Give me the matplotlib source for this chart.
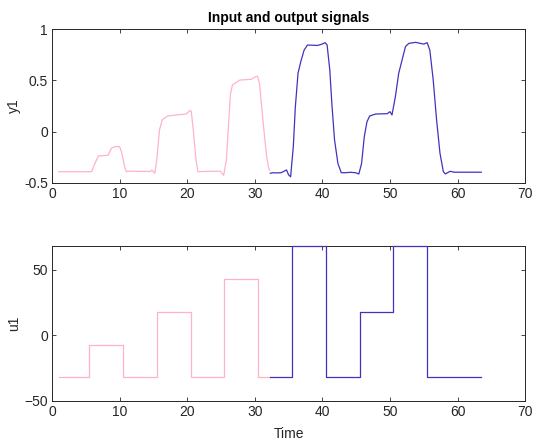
#Input / output signal plot
import matplotlib
matplotlib.use("Agg")
import matplotlib.pyplot as plt

plt.rcParams['font.family'] = ['Liberation Sans', 'DejaVu Sans']

# output y1, first experiment (pink)
t_y_a = [1, 5.5, 5.85, 6.35, 6.85, 8.3, 8.8, 9.3, 10.0, 10.3, 10.8, 11.0, 11.3,
         14.5, 14.8, 15.2, 15.5, 15.9, 16.3, 17.1, 18.9, 19.8, 20.4, 20.6, 20.9,
         21.3, 21.6, 22.3, 24.9, 25.4, 25.8, 26.1, 26.4, 26.7, 27.8, 29.5, 30.1,
         30.4, 30.7, 31.2, 31.7, 32.0, 32.2]
y_a = [-0.39, -0.39, -0.39, -0.31, -0.237, -0.23, -0.16, -0.146, -0.146, -0.20, -0.356, -0.39, -0.385,
       -0.388, -0.375, -0.405, -0.276, 0.017, 0.114, 0.153, 0.166, 0.17, 0.205, 0.2, 0.017,
       -0.276, -0.39, -0.388, -0.385, -0.425, -0.276, 0.05, 0.37, 0.455, 0.503, 0.51, 0.535,
       0.54, 0.47, 0.114, -0.21, -0.34, -0.375]

# output y1, second experiment (blue)
t_y_b = [32.3, 32.7, 33.2, 33.9, 34.7, 35.0, 35.3, 35.7, 36.0, 36.4, 36.8, 37.3, 37.8,
         39.3, 40.0, 40.4, 40.7, 41.1, 41.4, 41.8, 42.3, 42.8, 43.4, 44.2, 44.9,
         45.4, 45.8, 46.2, 46.6, 47.0, 47.9, 49.6, 50.0, 50.3, 50.8, 51.3, 51.8,
         52.3, 52.8, 53.8, 54.5, 55.0, 55.5, 55.9, 56.4, 56.9, 57.4, 57.9, 58.2,
         58.9, 59.5, 63.5]
y_b = [-0.405, -0.40, -0.402, -0.40, -0.373, -0.42, -0.44, -0.146, 0.24, 0.57, 0.68, 0.795, 0.844,
       0.84, 0.854, 0.867, 0.845, 0.60, 0.276, -0.08, -0.31, -0.40, -0.40, -0.396, -0.40,
       -0.412, -0.31, -0.05, 0.097, 0.153, 0.172, 0.175, 0.195, 0.163, 0.34, 0.57, 0.70,
       0.83, 0.86, 0.87, 0.86, 0.853, 0.867, 0.795, 0.503, 0.114, -0.21, -0.39, -0.412,
       -0.386, -0.395, -0.395]

# input u1 (piecewise constant), change times and levels
t_u_a = [1, 5.5, 10.5, 15.5, 20.5, 25.5, 30.5, 32.25]
u_a = [-32, -7, -32, 18, -32, 43, -32, -32]
t_u_b = [32.25, 35.5, 40.5, 45.5, 50.5, 55.5, 63.5]
u_b = [-32, 68, -32, 18, 68, -32, -32]

pink = '#FFB3C6'
blue = '#3F33C0'
grey = '#262626'

fig = plt.figure(figsize=(5.34, 4.45), dpi=100)
ax1 = fig.add_axes([0.0974, 0.5888, 0.886, 0.346])
ax2 = fig.add_axes([0.0974, 0.0989, 0.886, 0.3483])

ax1.plot(t_y_a, y_a, color=pink, linewidth=0.9)
ax1.plot(t_y_b, y_b, color=blue, linewidth=0.9)
ax1.set_ylim(-0.5, 1)
ax1.set_yticks([-0.5, 0, 0.5, 1])
ax1.set_yticklabels(['-0.5', '0', '0.5', '1'])
ax1.set_ylabel('y1', color=grey, fontsize=10, labelpad=2)
ax1.set_title('Input and output signals', fontsize=10, fontweight='bold', pad=5)

ax2.step(t_u_a, u_a, where='post', color=pink, linewidth=0.9)
ax2.step(t_u_b, u_b, where='post', color=blue, linewidth=0.9, clip_on=False, zorder=5)
ax2.set_ylim(-50, 68)
ax2.set_yticks([-50, 0, 50])
ax2.set_ylabel('u1', color=grey, fontsize=10, labelpad=2)
ax2.set_xlabel('Time', color=grey, fontsize=10, labelpad=6)

for ax in (ax1, ax2):
    ax.set_xlim(0, 70)
    ax.set_xticks(range(0, 71, 10))
    ax.tick_params(direction='in', top=True, right=True, length=3, width=0.6,
                   colors=grey, labelsize=10, pad=3)
    for s in ax.spines.values():
        s.set_color(grey)
        s.set_linewidth(0.7)

plt.savefig('out.png', dpi=100)
